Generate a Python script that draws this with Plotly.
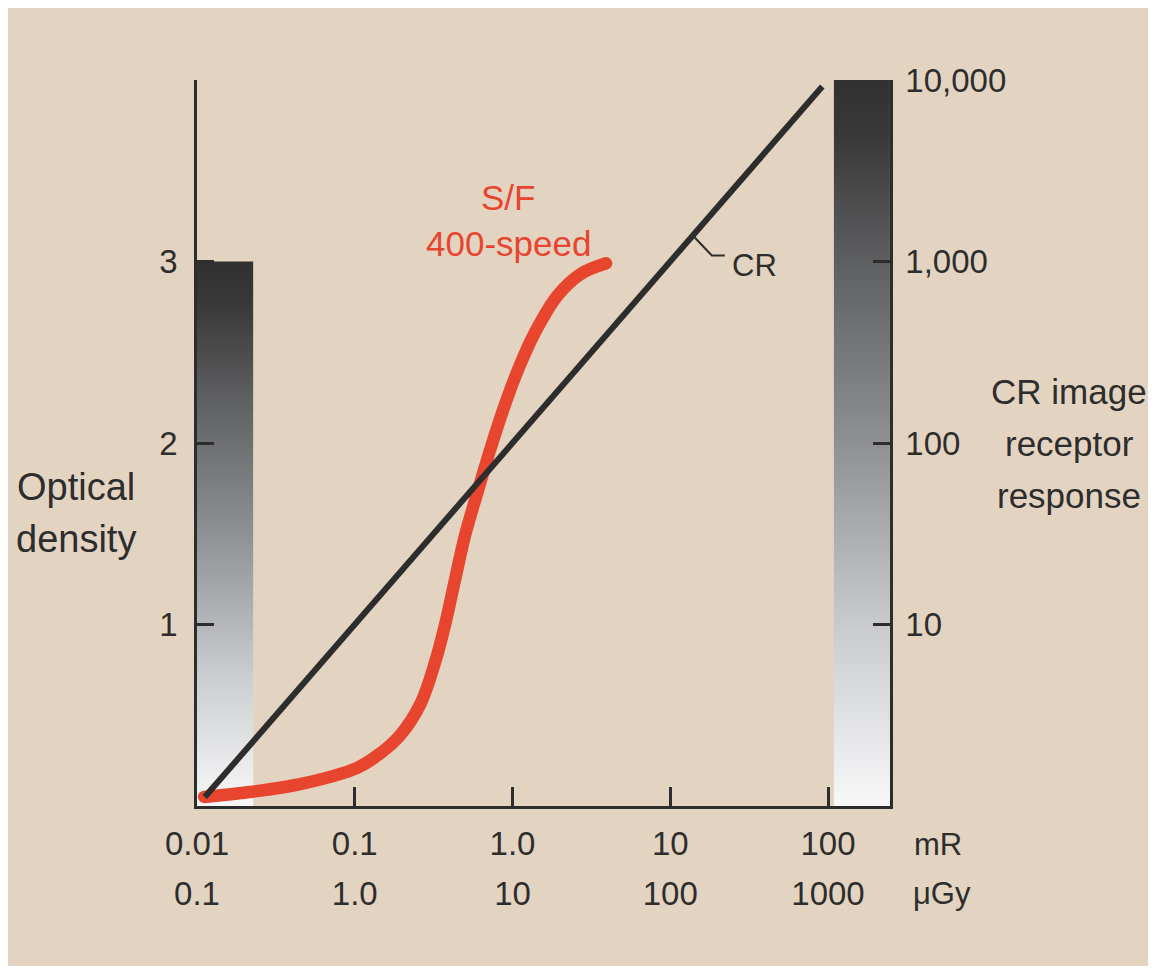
import plotly.graph_objects as go

# ---------------- data ----------------
MR_TICKS = [0.01, 0.1, 1, 10, 100]
MR_LABELS = ["0.01", "0.1", "1.0", "10", "100"]
UGY_LABELS = ["0.1", "1.0", "10", "100", "1000"]

OD_TICKS = [1, 2, 3, 4]
OD_LABELS = ["1", "2", "3", ""]

CR_TICKS = [10, 100, 1000, 10000]
CR_LABELS = ["10", "100", "1,000", "10,000"]

# screen/film 400-speed characteristic curve (exposure mR, optical density)
SF_EXPOSURE = [0.0111, 0.0217, 0.045, 0.1035, 0.145, 0.194, 0.26, 0.32, 0.374,
               0.433, 0.50, 0.605, 0.72, 0.87, 1.08, 1.39, 1.92, 2.69, 3.92]
SF_OD = [0.05, 0.077, 0.12, 0.21, 0.29, 0.39, 0.56, 0.78, 1.0,
         1.25, 1.49, 1.74, 1.96, 2.18, 2.40, 2.61, 2.81, 2.93, 2.99]

# computed radiography response (exposure mR, relative response)
CR_EXPOSURE = [0.0112, 92]
CR_RESPONSE = [1.12, 9200]

# grey-scale bars
OD_BAR_EXPOSURE = [0.01, 0.0227]
OD_BAR_RANGE = [0, 3]
CR_BAR_EXPOSURE = [109, 247]
CR_BAR_RANGE = [0, 4]

# ---------------- style ----------------
FONT = "Liberation Sans, Arial, sans-serif"
INK = "#2e2d2d"
RED = "#e8452f"
BEIGE = "#e3d4c1"
GREY_SCALE = [[0, "#f8f8f9"], [0.25, "#c8cacd"], [0.5, "#8e9093"],
              [0.75, "#5e5f61"], [0.92, "#3a393a"], [1, "#323132"]]

# the page body adds an 8px offset; plot area sits at screen x 197..890, y 80..806
OFF = 8
W, H = 1156 - OFF, 968 - OFF
X0, X1, Y0, Y1 = 197, 890, 80, 806
L, T = X0 - OFF, Y0 - OFF
R, B = W - (X1 - OFF), H - (Y1 - OFF)
PW, PH = X1 - X0, Y1 - Y0
XRANGE = [-2, 2.393]


def px(x):
    return (x - X0) / PW


def py(y):
    return (Y1 - y) / PH


fig = go.Figure()

for bx, by in [(OD_BAR_EXPOSURE, OD_BAR_RANGE), (CR_BAR_EXPOSURE, CR_BAR_RANGE)]:
    fig.add_trace(go.Scatter(
        x=[bx[0], bx[1], bx[1], bx[0], bx[0]],
        y=[by[0], by[0], by[1], by[1], by[0]],
        mode="lines", line=dict(width=0), fill="toself",
        fillgradient=dict(type="vertical", colorscale=GREY_SCALE),
        hoverinfo="skip", showlegend=False, yaxis="y"))

fig.add_trace(go.Scatter(x=CR_EXPOSURE, y=CR_RESPONSE, yaxis="y2", mode="lines",
                         line=dict(color=INK, width=6), showlegend=False))

# leader line for the CR label, starting on the CR line
dec_x = PW / (XRANGE[1] - XRANGE[0])
dec_y = PH / 4
lead_x0 = 13.9
lead_y0 = CR_RESPONSE[0] / CR_EXPOSURE[0] * lead_x0
lead_x1 = lead_x0 * 10 ** (19 / dec_x)
lead_y1 = lead_y0 * 10 ** (-20 / dec_y)
lead_x2 = lead_x1 * 10 ** (13 / dec_x)
fig.add_trace(go.Scatter(x=[lead_x0, lead_x1, lead_x2], y=[lead_y0, lead_y1, lead_y1],
                         yaxis="y2", mode="lines", line=dict(color=INK, width=2),
                         showlegend=False))

fig.add_trace(go.Scatter(x=SF_EXPOSURE, y=SF_OD, mode="lines",
                         line=dict(color=RED, width=12.5, shape="spline", smoothing=1),
                         showlegend=False))
fig.add_trace(go.Scatter(x=[SF_EXPOSURE[0], SF_EXPOSURE[-1]], y=[SF_OD[0], SF_OD[-1]],
                         mode="markers", marker=dict(color=RED, size=12.5),
                         showlegend=False))

# invisible trace that activates the second (µGy) exposure axis
fig.add_trace(go.Scatter(x=SF_EXPOSURE, y=SF_OD, xaxis="x2", yaxis="y", mode="lines",
                         line=dict(width=0), opacity=0, hoverinfo="skip",
                         showlegend=False))

axis_common = dict(showgrid=False, zeroline=False, showline=True, linecolor=INK,
                   linewidth=2.5, ticks="inside", tickcolor=INK, tickwidth=2.5)
TICK_FONT = dict(size=33, color=INK, family=FONT)

fig.update_layout(
    width=W, height=H,
    margin=dict(l=L, r=R, t=T, b=B, pad=0),
    paper_bgcolor="white", plot_bgcolor=BEIGE,
    font=dict(family=FONT, color=INK),
    xaxis=dict(type="log", range=XRANGE, tickvals=MR_TICKS, ticktext=MR_LABELS,
               ticklen=19, tickfont=TICK_FONT, ticklabelstandoff=7, **axis_common),
    xaxis2=dict(type="log", range=XRANGE, tickvals=MR_TICKS, ticktext=UGY_LABELS,
                overlaying="x", anchor="y", side="bottom", showline=False,
                showgrid=False, zeroline=False, ticks="",
                tickfont=TICK_FONT, ticklabelstandoff=65),
    yaxis=dict(range=[0, 4], tickvals=OD_TICKS, ticktext=OD_LABELS, ticklen=17,
               tickfont=TICK_FONT, ticklabelstandoff=10, **axis_common),
    yaxis2=dict(type="log", range=[0, 4], overlaying="y", side="right", anchor="x",
                tickvals=CR_TICKS, ticktext=CR_LABELS, ticklen=17,
                tickfont=TICK_FONT, ticklabelstandoff=6, **axis_common),
    shapes=[dict(type="rect", xref="paper", yref="paper", layer="below",
                 x0=px(3), x1=px(1160), y0=py(966), y1=py(5),
                 fillcolor=BEIGE, line=dict(width=0))],
)

ann = []


def text(s, x, y, size, color=INK, xanchor="center"):
    ann.append(dict(text=s, x=px(x), y=py(y), xref="paper", yref="paper",
                    showarrow=False, xanchor=xanchor, yanchor="middle",
                    font=dict(size=size, color=color, family=FONT)))


text("Optical", 76, 487, 38)
text("density", 76, 539, 38)
text("CR image", 1069, 391, 35)
text("receptor", 1069, 443, 35)
text("response", 1069, 495, 35)
text("S/F", 508, 197, 35, RED)
text("400-speed", 508, 244, 35, RED)
text("CR", 730, 265, 31, xanchor="left")
text("mR", 912, 844, 31, xanchor="left")
text("\u03bcGy", 911, 894, 31, xanchor="left")
fig.update_layout(annotations=ann)

fig.write_html("out.html")
